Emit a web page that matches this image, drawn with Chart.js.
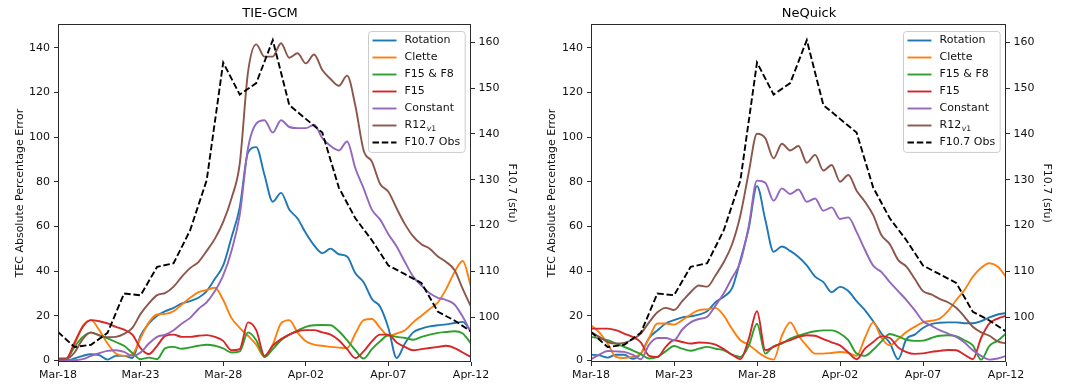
<!DOCTYPE html>
<html>
<head>
<meta charset="utf-8">
<script src="https://cdn.jsdelivr.net/npm/chart.js@4.4.0/dist/chart.umd.min.js"></script>
<style>
html,body{margin:0;padding:0;background:#fff;}
#wrap{position:relative;width:1078px;height:385px;overflow:hidden;}
canvas{position:absolute;top:0;}
</style>
</head>
<body>
<div id="wrap">
<canvas id="c1" width="540" height="385" style="left:0"></canvas>
<canvas id="c2" width="538" height="385" style="left:540px"></canvas>
</div>
<script>
// ---------------- DATA ----------------
const dayTicks = ['Mar-18','Mar-23','Mar-28','Apr-02','Apr-07','Apr-12'];
const stepDays = 0.5;   // model series sampled every half day from Mar-18
const seriesNames = ['Rotation','Clette','F15 & F8','F15','Constant','R12'];
const seriesSubs  = ['','','','','','v1'];
const obsName = 'F10.7 Obs';

// Observed F10.7 (sfu), daily Mar-18 .. Apr-12
const f107Obs = [96.8,93.5,94,96.6,105.2,104.8,111,111.8,119,129.9,155.6,148.6,151.1,160.5,146.3,143.3,140.3,128.3,121.6,116.8,111.3,109.4,107.5,101.2,99.3,96.9];

// TIE-GCM TEC absolute percentage error
const tieRotation = [0,0,0.8,2,2.7,2.3,0.3,2,2,1, 11,16.5,20,22,23.5,25.5,26.5,28,31,36.5, 42.5,55,68.5,93,95.5,83,71,75,67.5,63.5, 57,51.5,48,50,47.5,46.5,39,35,27.5,24, 14.5,1,7.5,12.5,14.2,15.2,15.7,16.1,16.7,17.2, 12.7];
const tieClette   = [0,0.3,7,15.5,18,13.5,7.5,3,2,2.7, 10,17,20.5,20.8,22,25,28,30.5,31.5,32.5, 27,19,14.5,11,7,1.5,7,16.5,18,12.5, 8.5,7,6.5,6,5.7,5.5,12,18,18.5,14.5, 11,12,13.5,17,20,23,26,32,39.5,44.5, 33];
const tieF15F8    = [0,0.5,6,10.5,12.4,11.2,9.8,8.2,6.5,3.3, 0.5,1.2,0.5,5.5,6,5.2,5.8,6.5,7,6.5, 5.3,3.5,4,12.5,9,1.5,5,9,11.5,13.3, 15,15.7,15.8,15.7,13,9,4.5,0.8,5,8.5, 11.2,10.5,10,9.2,10.5,11.5,12.3,12.7,13,12, 7.5];
const tieF15      = [0.8,0.8,8,15,18,17.5,16.5,15,13.7,11.5, 5.5,2.8,6.5,11,11.5,10.5,10.5,11,11.3,10.5, 8.7,4.5,5,17,13.5,2,6.5,9.5,11.5,13, 13.5,13.5,12.5,11.5,9,5,1,4,8.5,11.5, 11.5,8,6,4.5,5,5.5,6,6.5,5.5,3.5, 1.5];
const tieConstant = [0,0,0,0.5,2,3.2,4.2,4.5,3.8,2, 3.5,7.5,10.5,11.5,13.5,16.5,19,23,26,31, 38,49,65,95,106,107.5,102,107.5,104.5,104, 104,105.5,99.5,96,94,98,86,77,67.5,63, 56.5,51,44,37.5,33.5,30,28,27,25,19.5, 12.5];
const tieR12      = [0.5,0.5,3.5,9.5,12.5,11.2,10.3,10.5,11.8,14.5, 20.8,25.5,29.2,30.2,33,37.5,41.3,44,49,54.5, 62,72.5,88,129,141.5,136,136,142,135.5,137.5, 133,137,130,126,123,127.5,114,94,89,79, 75.5,68,61,55.5,52,50,46.5,44,40.5,32, 24];

// NeQuick TEC absolute percentage error
const nqRotation = [2.5,2.2,1.2,2.5,2.5,0.7,3,10,13.4,16.5, 18,19.2,19.7,20.5,22,26,28.5,32.3,45,59, 78,63,48.6,51,49,46.3,42.5,37.5,35,30.5, 32.9,31,26.5,22.5,17.5,12,7.8,0.5,9.5,11.5, 14.5,16.2,16.8,17,17,16.6,16.6,17.5,19.2,20.5, 21.2];
const nqClette   = [15.7,12.5,7.5,1.5,1,1.5,3,10,16.5,16.5, 16,18,20.5,22.5,22.8,23.5,20,14,9,7, 4,1.5,0.3,11,17,11,6.5,3,3,3.3, 3.7,3.3,2,10,17,10,6.7,9.5,12.7,15, 17,17.7,18.7,22,27,31.5,37.4,41.5,43.5,42, 37.4];
const nqF15F8    = [10.5,9.8,9,7.5,6,4.5,2.8,0.8,1.5,4, 6.4,5.2,4.3,5.2,6,5.2,4.5,2.5,1.5,6.5, 16.4,3,6.3,7.5,9.7,11,12.2,13,13.4,13.4, 12,9,3,2,4.7,8.5,11.8,10.7,9.2,8.7, 8.8,10,11,11.2,10.8,9,6.7,0.3,6.5,8.8, 12];
const nqF15      = [14.2,14.2,14.2,13.5,12,10.5,8,2,1.5,6, 9,8.2,7.5,8,7.8,7,5,2.5,0.5,9.5, 22,4.5,6,7.8,9,10.5,11.2,11,9.5,8, 6.7,3.5,0.5,5.2,8.2,10.7,10,5.8,3.7,2.9, 3.1,3.8,4.2,4.6,4.5,2.5,0.5,10,16.5,18.7, 20];
const nqConstant = [0.5,2.5,4.2,4,3.8,2.5,0.5,7,10,10, 9,13.8,17,18.5,19.5,24.5,30,37,44,60, 80.5,79.5,71.5,77,74.5,76.5,71,72.5,67,68.5, 63.3,64,57.5,49.5,42.4,39.5,35,31,27,22.5, 17.5,15.5,13.5,12,10.5,8,4.5,2,0.3,0.8, 2];
const nqR12      = [12.7,10.5,8.2,7.5,7.8,9.3,12,17,21.5,23.5, 22.5,26.5,30.5,33.5,33,38,44,52,65,84, 101.5,99.5,90.5,97,94,96,88.5,92,85,87.5, 80,83,76,71,65,56,52,45,42,36.5, 31,29.5,27.5,26,23.5,19.5,15,12.5,11,8.5, 7.5];

// ---------------- STYLE ----------------
const FONT = 'DejaVu Sans';
const seriesColors = ['#1f77b4','#ff7f0e','#2ca02c','#d62728','#9467bd','#8c564b'];
const AXIS_COLOR = '#2b2b2b';
const TEXT_COLOR = '#111111';
const LINE_W = 1.9;
Chart.defaults.font.family = FONT;
Chart.defaults.color = TEXT_COLOR;

function toPoints(arr, step) { return arr.map((v, i) => ({x: i * step, y: v})); }

const mplPlugin = {
  id: 'mplFrameLegend',
  afterDatasetsDraw(chart) {
    const ctx = chart.ctx;
    const a = chart.chartArea;
    ctx.save();
    // frame (all four spines)
    ctx.strokeStyle = AXIS_COLOR;
    ctx.lineWidth = 1;
    const L = Math.round(a.left), R = Math.round(a.right), T = Math.round(a.top), B = Math.round(a.bottom);
    ctx.strokeRect(L + 0.5, T + 0.5, R - L - 1, B - T - 1);
    // legend
    const mainFont = '11px "' + FONT + '"';
    const subFont = '7.7px "' + FONT + '"';
    const subItFont = 'italic 7.7px "' + FONT + '"';
    const items = chart.data.datasets.map((d) => ({
      label: d.label, sub: d.sub || '', color: d.borderColor, dash: d.borderDash || []
    }));
    let maxW = 0;
    items.forEach(it => {
      ctx.font = mainFont;
      let w = ctx.measureText(it.label).width;
      if (it.sub) { ctx.font = subFont; w += ctx.measureText(it.sub).width + 1; }
      maxW = Math.max(maxW, w);
    });
    const boxW = 36 + maxW + 5;
    const rowH = 17;
    const boxH = 18.6 + rowH * (items.length - 1) + 0.3;
    const bx = Math.round(a.right - 6.3 - boxW) + 0.5;
    const by = Math.round(a.top + 6.7) + 0.5;
    ctx.beginPath();
    const r = 3;
    ctx.moveTo(bx + r, by);
    ctx.lineTo(bx + boxW - r, by);
    ctx.quadraticCurveTo(bx + boxW, by, bx + boxW, by + r);
    ctx.lineTo(bx + boxW, by + boxH - r);
    ctx.quadraticCurveTo(bx + boxW, by + boxH, bx + boxW - r, by + boxH);
    ctx.lineTo(bx + r, by + boxH);
    ctx.quadraticCurveTo(bx, by + boxH, bx, by + boxH - r);
    ctx.lineTo(bx, by + r);
    ctx.quadraticCurveTo(bx, by, bx + r, by);
    ctx.closePath();
    ctx.fillStyle = 'rgba(255,255,255,0.8)';
    ctx.fill();
    ctx.strokeStyle = '#cccccc';
    ctx.lineWidth = 1;
    ctx.stroke();
    items.forEach((it, i) => {
      const y = by + 9 + rowH * i;
      ctx.beginPath();
      ctx.setLineDash(it.dash);
      ctx.strokeStyle = it.color;
      ctx.lineWidth = LINE_W;
      ctx.moveTo(bx + 4, y);
      ctx.lineTo(bx + 28, y);
      ctx.stroke();
      ctx.setLineDash([]);
      ctx.fillStyle = TEXT_COLOR;
      ctx.textBaseline = 'middle';
      ctx.textAlign = 'left';
      ctx.font = mainFont;
      ctx.fillText(it.label, bx + 36, y);
      if (it.sub) {
        let x = bx + 36 + ctx.measureText(it.label).width + 0.5;
        ctx.font = subItFont;
        ctx.fillText(it.sub[0], x, y + 3.6);
        x += ctx.measureText(it.sub[0]).width;
        ctx.font = subFont;
        ctx.fillText(it.sub.slice(1), x, y + 3.6);
      }
    });
    ctx.restore();
  }
};

function makeChart(canvasId, title, series, geo) {
  const datasets = series.map((arr, k) => ({
    label: seriesNames[k],
    sub: seriesSubs[k],
    data: toPoints(arr, stepDays),
    borderColor: seriesColors[k],
    backgroundColor: seriesColors[k],
    borderWidth: LINE_W,
    pointRadius: 0,
    cubicInterpolationMode: 'monotone',
    fill: false,
    yAxisID: 'y',
    order: 10 - k
  }));
  datasets.push({
    label: obsName,
    data: toPoints(f107Obs, 1),
    borderColor: '#000000',
    backgroundColor: '#000000',
    borderDash: [6.5, 2.8],
    borderWidth: LINE_W,
    pointRadius: 0,
    tension: 0,
    fill: false,
    yAxisID: 'y1',
    order: 0
  });
  const gridCfg = {display: true, drawOnChartArea: false, drawTicks: true, tickLength: 4,
                   color: AXIS_COLOR, tickColor: AXIS_COLOR, tickWidth: 1};
  const borderCfg = {display: false};
  const tickFont = {family: FONT, size: 11};
  return new Chart(document.getElementById(canvasId), {
    type: 'line',
    data: {datasets},
    options: {
      responsive: false,
      animation: false,
      events: [],
      layout: {padding: 0},
      plugins: {
        legend: {display: false},
        tooltip: {enabled: false},
        title: {display: true, text: title, color: '#000',
                font: {family: FONT, size: 13, weight: 'normal'},
                padding: {top: 5.7, bottom: 3}}
      },
      scales: {
        x: {
          type: 'linear', position: 'bottom', min: 0, max: 25,
          afterFit: s => { s.height = geo.xh; },
          grid: gridCfg, border: borderCfg,
          ticks: {stepSize: 5, includeBounds: false, autoSkip: false, maxRotation: 0,
                  padding: 3, color: TEXT_COLOR, font: tickFont,
                  callback: v => dayTicks[Math.round(v / 5)]}
        },
        y: {
          type: 'linear', position: 'left', min: -0.76, max: 150.5,
          afterFit: s => { s.width = geo.yl; },
          grid: gridCfg, border: borderCfg,
          ticks: {stepSize: 20, includeBounds: false, padding: 4, color: TEXT_COLOR, font: tickFont},
          title: {display: true, text: 'TEC Absolute Percentage Error', color: TEXT_COLOR,
                  font: {family: FONT, size: 11}, padding: {top: geo.ytp, bottom: 0}}
        },
        y1: {
          type: 'linear', position: 'right', min: 90.24, max: 163.94,
          afterFit: s => { s.width = geo.yr; },
          grid: gridCfg, border: borderCfg,
          ticks: {stepSize: 10, includeBounds: false, padding: 3.5, color: TEXT_COLOR, font: tickFont},
          title: {display: true, text: 'F10.7 (sfu)', color: TEXT_COLOR,
                  font: {family: FONT, size: 11}, padding: {top: geo.y1tp, bottom: 0}}
        }
      }
    },
    plugins: [mplPlugin]
  });
}

makeChart('c1', 'TIE-GCM',
  [tieRotation, tieClette, tieF15F8, tieF15, tieConstant, tieR12],
  {xh: 23, yl: 58, yr: 69, ytp: 13.4, y1tp: 21.7});
makeChart('c2', 'NeQuick',
  [nqRotation, nqClette, nqF15F8, nqF15, nqConstant, nqR12],
  {xh: 23, yl: 51, yr: 72, ytp: 5.7, y1tp: 24.7});
</script>
</body>
</html>
